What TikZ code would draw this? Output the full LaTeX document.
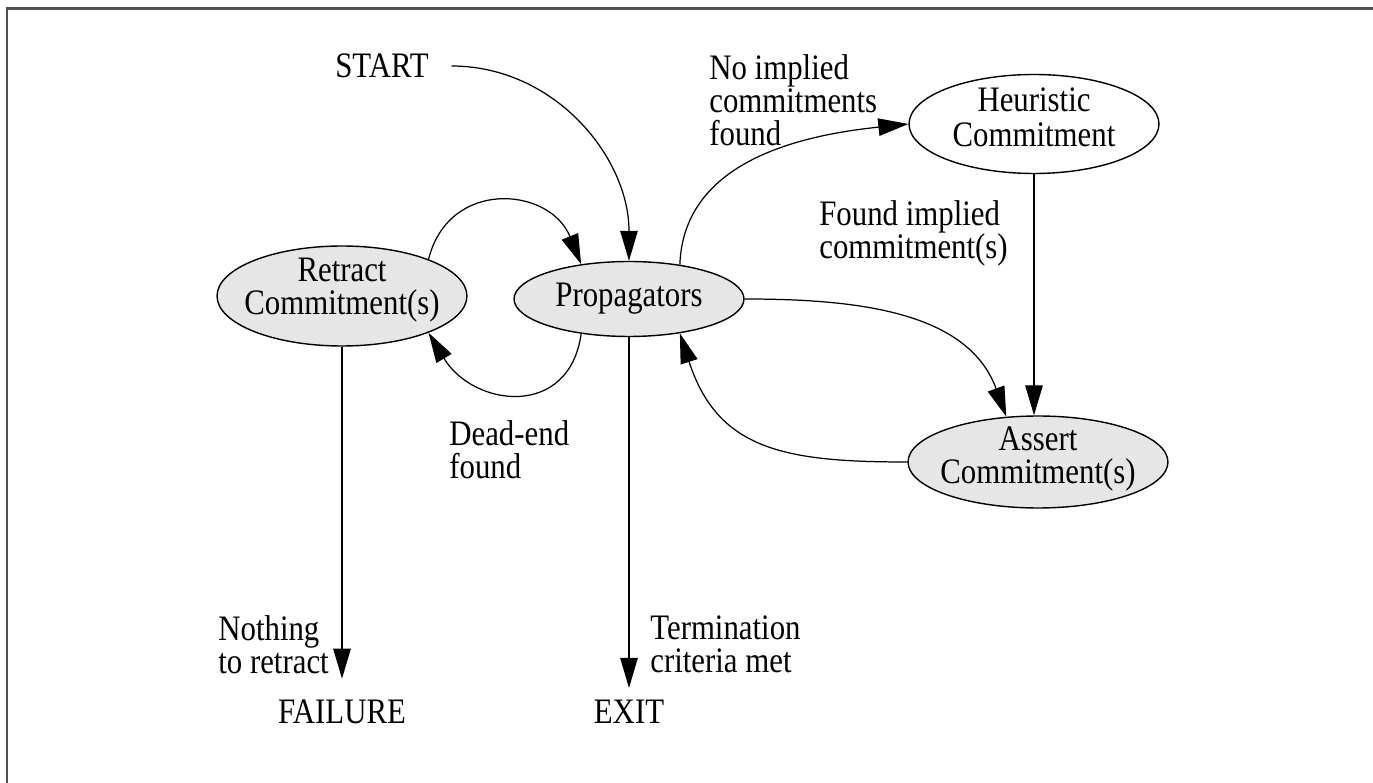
\documentclass[tikz,border=0pt]{standalone}
\usepackage{fontspec}
\setmainfont{Liberation Serif}[FakeStretch=0.86]
\usetikzlibrary{arrows.meta,shapes.geometric}
\definecolor{statefill}{RGB}{230,230,230}
\definecolor{framegray}{RGB}{80,80,80}

\begin{document}
\begin{tikzpicture}[x=0.02cm, y=-0.02cm,
  every node/.style={font=\fontsize{20.4pt}{18.7pt}\selectfont},
  state/.style={ellipse, draw=black, line width=0.8pt, fill=statefill, inner sep=0pt},
  openstate/.style={state, fill=white},
  caption/.style={inner sep=0pt, align=center},
  note/.style={inner sep=0pt, align=left, anchor=west},
  terminal/.style={inner sep=0pt},
  flow/.style={line width=0.7pt, -{Triangle[length=0.6cm,width=0.35cm]}},
]
\useasboundingbox (0,0) rectangle (1373,783);
% page frame (top and left edges)
\draw[framegray, line width=1.2pt] (6.7,800) -- (6.7,8.5) -- (1390,8.5);

% states
\node[state, minimum width=5cm, minimum height=2.0cm] (retract) at (342,296) {};
\node[caption] (retractText) at (342,290) {Retract\\Commitment(s)};
\node[state, minimum width=4.6cm, minimum height=1.5cm] (prop) at (629,299) {Propagators};
\node[openstate, minimum width=5cm, minimum height=1.98cm] (heur) at (1034,124) {};
\node[caption] (heurText) at (1034,117) {Heuristic\\[0.04cm]Commitment};
\node[state, minimum width=5.2cm, minimum height=1.84cm] (assert) at (1038,462) {};
\node[caption] (assertText) at (1038,459) {Assert\\Commitment(s)};

% terminals
\node[terminal, inner xsep=0.45cm] (start) at (382,66) {START};
\node[terminal] (failure) at (342,712) {FAILURE};
\node[terminal] (exit) at (629,712) {EXIT};

% edge notes
\node[note] (noimp) at (709,100) {No implied\\commitments\\found};
\node[note] (foundimp) at (819,233) {Found implied\\commitment(s)};
\node[note] (deadend) at (449,450) {Dead-end\\found};
\node[note] (nothing) at (218,645) {Nothing\\to retract};
\node[note] (termination) at (650,644) {Termination\\criteria met};

% transitions
\draw[flow] (start.east) to[out=0,in=90] (prop.north);
\draw[flow] (retract.23) to[out=76,in=112,looseness=1.4] (prop.144);
\draw[flow] (prop.216) to[out=-98,in=-59,looseness=1.45] (retract.-23);
\draw[flow] (prop.34) to[out=88,in=186] (heur.west);
\draw[flow] (prop.east) to[out=0,in=110] (assert.125);
\draw[flow] (heur.south) -- (heur.south |- assert.north);
\draw[flow] (assert.west) to[out=180,in=-72,looseness=1.2] (prop.-34);
\draw[flow] (retract.south) -- ([yshift=0.42cm]failure.north);
\draw[flow] (prop.south) -- ([yshift=0.24cm]exit.north);
\end{tikzpicture}
\end{document}
